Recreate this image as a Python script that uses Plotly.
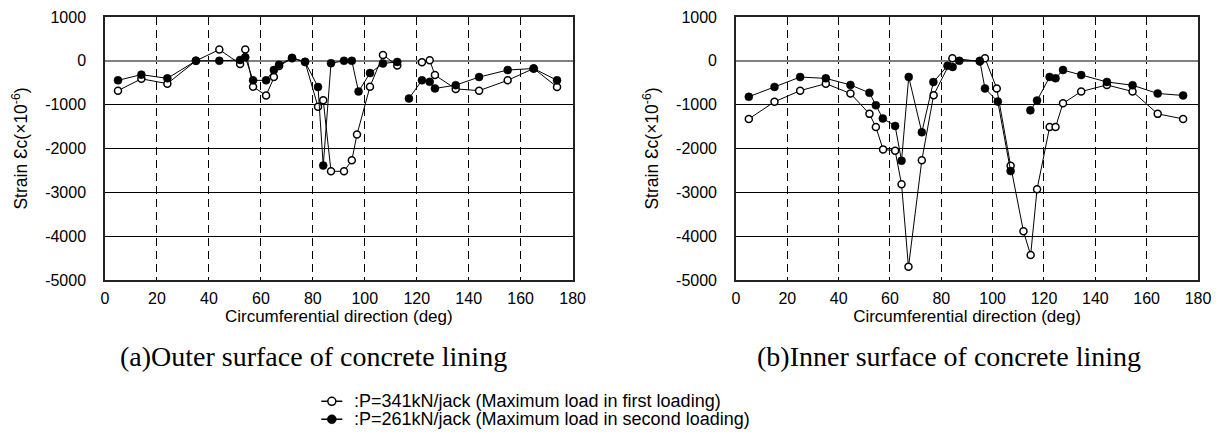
import plotly.graph_objects as go

# ---------------- data ----------------
# (a) Outer surface
a_open_deg = [5, 14, 24, 35, 44, 52, 54, 57, 62, 65, 67, 72, 77, 82, 84, 87, 92, 95, 97, 102, 107, 112.5,
              None, 122, 125, 127, 135, 144, 155, 165, 174]
a_open_val = [-680, -410, -520, 0, 256, -70, 256, -590, -790, -370, -120, 60, -25, -1050, -900, -2520, -2520,
              -2270, -1680, -590, 135, -105,
              None, -30, 15, -325, -640, -680, -445, -175, -595]
a_fill_deg = [5, 14, 24, 35, 44, 52, 54, 57, 62, 65, 67, 72, 77, 82, 84, 87, 92, 95, 97.6, 102, 107, 112.5,
              None, 117, 122, 125, 127, 135, 144, 155, 165, 174]
a_fill_val = [-445, -315, -400, 0, 0, 20, 80, -445, -445, -210, -90, 68, -23, -595, -2390, -53, 0, 0, -700,
              -280, -60, -25,
              None, -860, -445, -480, -630, -555, -370, -210, -175, -445]

# (b) Inner surface
b_open_deg = [5, 15, 25, 35, 44.6, 52, 54.5, 57.3, 62, 64.5, 67.2, 72.4, 77, 84.3, 95, 97, 101.6, 107, 112,
              114.8, 117.3, 122.2, 124.5, 127.4, 134.5, 144.5, 154.5, 164.3, 174.2]
b_open_val = [-1325, -935, -680, -520, -745, -1210, -1510, -2020, -2050, -2815, -4700, -2270, -783, 60, -15,
              60, -630, -2395, -3890, -4430, -2930, -1512, -1512, -970, -700, -550, -700, -1210, -1325]
b_fill_deg = [5, 15, 25, 35, 44.6, 52, 54.5, 57.2, 62, 64.5, 67.3, 72.4, 76.9, 82.4, 84.4, 87, 95, 97, 102,
              107, None, 114.7, 117.3, 122.2, 124.5, 127.4, 134.5, 144.5, 154.5, 164.3, 174.2]
b_fill_val = [-820, -595, -370, -400, -550, -730, -1015, -1315, -1485, -2280, -368, -1630, -485, -115, -140,
              0, 0, -630, -930, -2515, None, -1130, -905, -368, -400, -210, -325, -482, -557, -745, -790]

x_ticks = [0, 20, 40, 60, 80, 100, 120, 140, 160, 180]
y_ticks = [-5000, -4000, -3000, -2000, -1000, 0, 1000]
y_tick_text = ["-5000", "-4000", "-3000", "-2000", "-1000", "0", "1000"]

name_open = ":P=341kN/jack (Maximum load in first loading)"
name_fill = ":P=261kN/jack (Maximum load in second loading)"
cap_a = "(a)Outer surface of concrete lining"
cap_b = "(b)Inner surface of concrete lining"
x_title = "Circumferential direction (deg)"
y_title = "Strain \u0190c(\u00d710<sup>-6</sup>)"

SANS = "Liberation Sans, Arial, sans-serif"
SERIF = "Liberation Serif, Times New Roman, serif"

fig = go.Figure()

open_style = dict(mode="lines+markers", line=dict(color="black", width=1),
                  marker=dict(symbol="circle", size=7, color="white", line=dict(color="black", width=1.5)),
                  connectgaps=False, showlegend=False)
fill_style = dict(mode="lines+markers", line=dict(color="black", width=1),
                  marker=dict(symbol="circle", size=8, color="black", line=dict(color="black", width=0.5)),
                  connectgaps=False, showlegend=False)

fig.add_trace(go.Scatter(x=a_open_deg, y=a_open_val, name=name_open, xaxis="x", yaxis="y", **open_style))
fig.add_trace(go.Scatter(x=a_fill_deg, y=a_fill_val, name=name_fill, xaxis="x", yaxis="y", **fill_style))
fig.add_trace(go.Scatter(x=b_open_deg, y=b_open_val, name=name_open, xaxis="x2", yaxis="y2", **open_style))
fig.add_trace(go.Scatter(x=b_fill_deg, y=b_fill_val, name=name_fill, xaxis="x2", yaxis="y2", **fill_style))

# page body has an 8px margin: work in screen pixels and shift by it
OFF = 8
W, H = 1222, 439
SCR_L, SCR_R, SCR_T, SCR_B = 104.5, 1198.4, 17, 280.5
L = SCR_L - OFF
T = SCR_T - OFF
R = W - (SCR_R - OFF)
B = H - (SCR_B - OFF)
pw = W - L - R
ph = H - T - B


def px(x):
    return (x - OFF - L) / pw


def py(y):
    return (H - B - (y - OFF)) / ph


TICK = 16
TITLE = 17

xa = dict(range=[0, 180], tickvals=x_ticks, showgrid=True, gridcolor="black", gridwidth=1,
          griddash="8px,5px", zeroline=False, showline=True, linecolor="#222", linewidth=1.5,
          mirror=True, ticks="", tickfont=dict(family=SANS, size=TICK, color="black"),
          ticklabelstandoff=3, automargin=False, ticklabeloverflow="allow",
          title=dict(text=x_title, font=dict(family=SANS, size=TITLE, color="black"), standoff=3))
ya = dict(range=[-5000, 1000], tickvals=y_ticks, ticktext=y_tick_text, showgrid=True, gridcolor="black",
          gridwidth=1, zeroline=True, zerolinecolor="#808080", zerolinewidth=1.8, showline=True,
          linecolor="#222", linewidth=1.5, mirror=True, ticks="", automargin=False,
          ticklabeloverflow="allow",
          tickfont=dict(family=SANS, size=TICK, color="black"), ticklabelstandoff=14,
          title=dict(text=y_title, font=dict(family=SANS, size=17.5, color="black"), standoff=13))

# manual legend (keys + labels)
leg_rows = [(402, "white", 1.5, 4.0, name_open), (420, "black", 0.5, 4.5, name_fill)]
shapes = []
annotations = [
    dict(text=cap_a, x=px(313), y=py(357), xref="paper", yref="paper", showarrow=False,
         xanchor="center", yanchor="middle", font=dict(family=SERIF, size=28, color="black")),
    dict(text=cap_b, x=px(949), y=py(357), xref="paper", yref="paper", showarrow=False,
         xanchor="center", yanchor="middle", font=dict(family=SERIF, size=28, color="black")),
]
for yy, fc, lw, r, txt in leg_rows:
    shapes.append(dict(type="line", xref="paper", yref="paper", x0=px(321), x1=px(342),
                       y0=py(yy), y1=py(yy), line=dict(color="black", width=1.5)))
    shapes.append(dict(type="circle", xref="paper", yref="paper", xsizemode="pixel", ysizemode="pixel",
                       xanchor=px(331.5), yanchor=py(yy), x0=-r, x1=r, y0=-r, y1=r,
                       fillcolor=fc, line=dict(color="black", width=lw)))
    annotations.append(dict(text=txt, x=px(352), y=py(yy), xref="paper", yref="paper", showarrow=False,
                            xanchor="left", yanchor="middle",
                            font=dict(family=SANS, size=18, color="black")))

fig.update_layout(
    width=W, height=H,
    margin=dict(l=L, r=R, t=T, b=B),
    paper_bgcolor="white", plot_bgcolor="white",
    showlegend=False,
    xaxis=dict(domain=[0, px(572.5)], anchor="y", **xa),
    yaxis=dict(domain=[0, 1], anchor="x", **ya),
    xaxis2=dict(domain=[px(736), 1], anchor="y2", **xa),
    yaxis2=dict(domain=[0, 1], anchor="x2", **ya),
    shapes=shapes,
    annotations=annotations,
)

fig.write_html("out.html")
